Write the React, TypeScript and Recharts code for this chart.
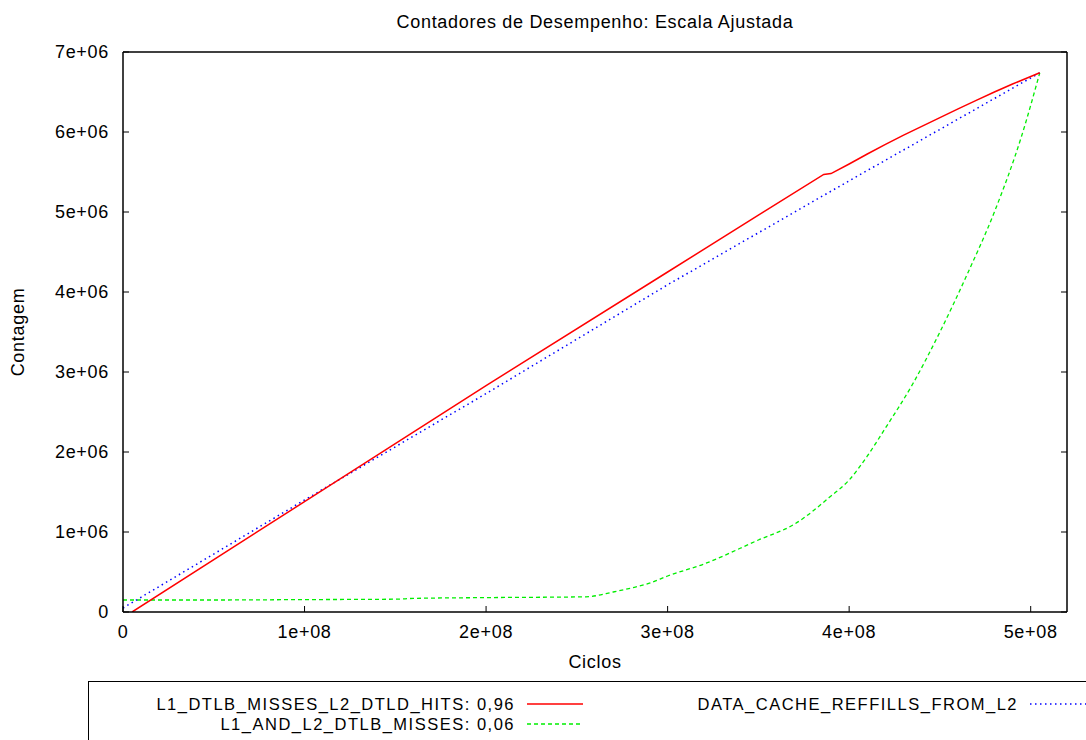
import { LineChart, Line, XAxis, YAxis, Legend, Label } from 'recharts'

const cycleTicks = [0, 1e8, 2e8, 3e8, 4e8, 5e8]
const countTicks = [0, 1e6, 2e6, 3e6, 4e6, 5e6, 6e6, 7e6]

const hitsCycles = [
  0.05e8, 1e8, 2e8, 3e8, 3.5e8, 3.86e8, 3.9e8, 4e8, 4.1e8, 4.2e8, 4.3e8, 4.4e8, 4.5e8, 4.6e8,
  4.7e8, 4.8e8, 4.9e8, 5.05e8,
]
const hitsValues = [
  0, 1.38e6, 2.83e6, 4.25e6, 4.96e6, 5.47e6, 5.48e6, 5.6e6, 5.725e6, 5.845e6, 5.96e6, 6.07e6,
  6.18e6, 6.29e6, 6.395e6, 6.5e6, 6.6e6, 6.74e6,
]

const missCycles = [
  0, 0.5e8, 1e8, 1.5e8, 1.6e8, 2e8, 2.55e8, 2.7e8, 2.8e8, 2.9e8, 3e8, 3.2e8, 3.5e8, 3.7e8,
  3.9e8, 4e8, 4.1e8, 4.2e8, 4.35e8, 4.5e8, 4.65e8, 4.8e8, 4.95e8, 5.05e8,
]
const missValues = [
  0.15e6, 0.15e6, 0.155e6, 0.16e6, 0.17e6, 0.18e6, 0.19e6, 0.25e6, 0.3e6, 0.36e6, 0.45e6,
  0.6e6, 0.9e6, 1.1e6, 1.45e6, 1.65e6, 1.95e6, 2.3e6, 2.85e6, 3.5e6, 4.22e6, 5.0e6, 5.95e6, 6.74e6,
]

const refillCycles = [0, 1e8, 2e8, 3e8, 4e8, 5.05e8]
const refillValues = [0.05e6, 1.4e6, 2.73e6, 4.09e6, 5.39e6, 6.74e6]

const hitsData = hitsCycles.map((c, i) => ({ cycles: c, count: hitsValues[i] }))
const missData = missCycles.map((c, i) => ({ cycles: c, count: missValues[i] }))
const refillData = refillCycles.map((c, i) => ({ cycles: c, count: refillValues[i] }))

const FONT = '"Liberation Sans", Arial, sans-serif'
const FS = 18
const LS = 0.7

function sci(v: number): string {
  if (v === 0) return '0'
  const [m, e] = v.toExponential(0).split('e')
  return `${m}e${e[0]}${e.slice(1).padStart(2, '0')}`
}

const blank = () => ''

function LegendBox() {
  const row = (label: string, color: string, dash: string | undefined, right: number, top: number) => (
    <div key={label} style={{ position: 'absolute', left: 0, top, width: right + 70, height: 20 }}>
      <span
        style={{
          position: 'absolute',
          right: 70,
          top: 0,
          whiteSpace: 'nowrap',
          lineHeight: '20px',
        }}
      >
        {label}
      </span>
      <svg width={56} height={20} style={{ position: 'absolute', right: 2, top: 0 }}>
        <line x1={0} y1={10} x2={56} y2={10} stroke={color} strokeWidth={1.3} strokeDasharray={dash} />
      </svg>
    </div>
  )
  return (
    <div
      style={{
        position: 'relative',
        width: 1100,
        height: 80,
        border: '1.5px solid #000',
        boxSizing: 'border-box',
        fontFamily: FONT,
        fontSize: 16.5,
        letterSpacing: 1.5,
        color: '#000',
      }}
    >
      {row('L1_DTLB_MISSES_L2_DTLD_HITS: 0,96', '#ff0000', undefined, 426, 12)}
      {row('L1_AND_L2_DTLB_MISSES: 0,06', '#00ee00', '4 3', 426, 32)}
      {row('DATA_CACHE_REFFILLS_FROM_L2', '#0000ff', '1.5 3.5', 929, 12)}
    </div>
  )
}

export default function App() {
  const tickStyle = { fill: '#000', fontSize: FS, fontFamily: FONT }
  return (
    <div style={{ position: 'absolute', left: 0, top: 0, width: 1086, height: 740, overflow: 'hidden', background: '#fff' }}>
      <div style={{ fontFamily: FONT, letterSpacing: LS }}>
        <LineChart width={1086} height={740} margin={{ top: 42, right: 9, bottom: 98, left: 63 }}>
          <XAxis
            dataKey="cycles"
            type="number"
            domain={[0, 5.2e8]}
            ticks={cycleTicks}
            tickFormatter={sci}
            tick={tickStyle}
            tickSize={-6}
            tickMargin={19}
            height={30}
            axisLine={{ stroke: '#000', strokeWidth: 1.5 }}
            tickLine={{ stroke: '#000' }}
            allowDataOverflow
          >
            <Label value="Ciclos" position="bottom" offset={13} fill="#000" fontSize={FS} />
          </XAxis>
          <XAxis
            xAxisId="top"
            orientation="top"
            type="number"
            domain={[0, 5.2e8]}
            ticks={cycleTicks}
            tickFormatter={blank}
            tickSize={-6}
            height={10}
            axisLine={{ stroke: '#000', strokeWidth: 1.5 }}
            tickLine={{ stroke: '#000' }}
            allowDataOverflow
          >
            <Label
              value="Contadores de Desempenho: Escala Ajustada"
              position="top"
              offset={14}
              fill="#000"
              fontSize={FS}
            />
          </XAxis>
          <YAxis
            type="number"
            domain={[0, 7e6]}
            ticks={countTicks}
            tickFormatter={sci}
            tick={tickStyle}
            tickSize={-6}
            tickMargin={20}
            width={60}
            axisLine={{ stroke: '#000', strokeWidth: 1.5 }}
            tickLine={{ stroke: '#000' }}
            allowDataOverflow
          >
            <Label
              content={(props: any) => {
                const vb = props.viewBox || { y: 52, height: 560 }
                const cy = vb.y + vb.height / 2
                return (
                  <text x={18} y={cy} transform={`rotate(-90, 18, ${cy})`} textAnchor="middle" dominantBaseline="central" fill="#000" fontSize={FS}>
                    Contagem
                  </text>
                )
              }}
            />
          </YAxis>
          <YAxis
            yAxisId="right"
            orientation="right"
            type="number"
            domain={[0, 7e6]}
            ticks={countTicks}
            tickFormatter={blank}
            tickSize={-6}
            width={10}
            axisLine={{ stroke: '#000', strokeWidth: 1.5 }}
            tickLine={{ stroke: '#000' }}
            allowDataOverflow
          />
          <Legend
            layout="vertical"
            align="center"
            verticalAlign="middle"
            content={() => <LegendBox />}
            wrapperStyle={{ left: 88, top: 681, width: 1100, height: 80 }}
          />
          <Line
            data={missData}
            dataKey="count"
            name="L1_AND_L2_DTLB_MISSES: 0,06"
            type="monotone"
            stroke="#00ee00"
            strokeWidth={1.3}
            strokeDasharray="4 3"
            dot={false}
            isAnimationActive={false}
          />
          <Line
            data={refillData}
            dataKey="count"
            name="DATA_CACHE_REFFILLS_FROM_L2"
            type="linear"
            stroke="#0000ff"
            strokeWidth={1.5}
            strokeDasharray="1.5 3.5"
            dot={false}
            isAnimationActive={false}
          />
          <Line
            data={hitsData}
            dataKey="count"
            name="L1_DTLB_MISSES_L2_DTLD_HITS: 0,96"
            type="linear"
            stroke="#ff0000"
            strokeWidth={1.5}
            dot={false}
            isAnimationActive={false}
          />
        </LineChart>
      </div>
    </div>
  )
}
